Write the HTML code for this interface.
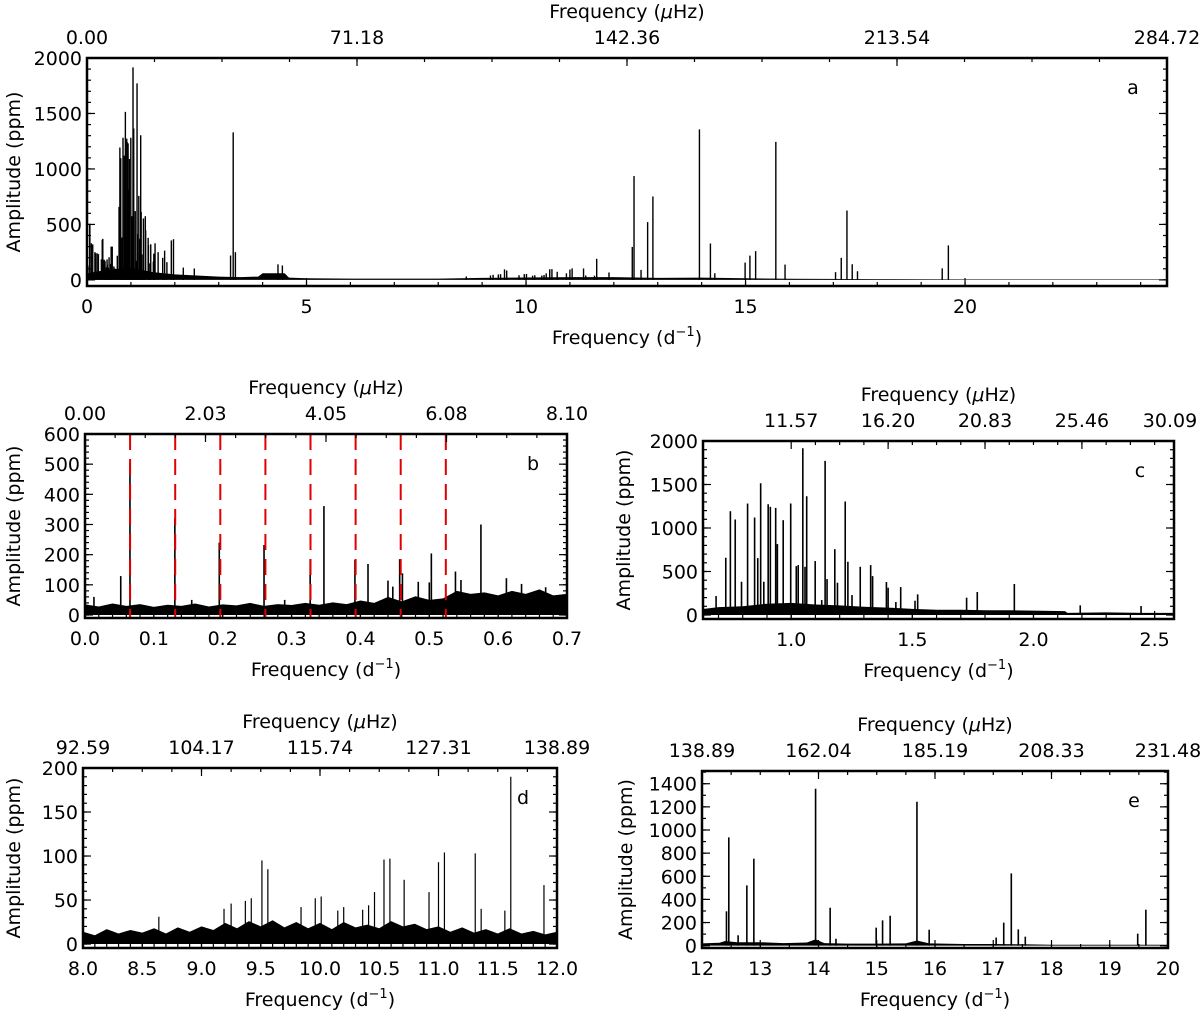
<!DOCTYPE html>
<html><head><meta charset="utf-8"><style>
html,body{margin:0;padding:0;background:#fff;}
svg{display:block;font-family:"DejaVu Sans","Liberation Sans",sans-serif;}
</style></head><body>
<svg id="fig" width="1200" height="1013" viewBox="0 0 1200 1013" xmlns="http://www.w3.org/2000/svg"></svg>
<script>
// ---------- DATA ----------
// panel b
const bPeakFreq=[0.0519,0.0653,0.1305,0.195,0.260,0.327,0.347,0.392,0.411,0.440,0.447,0.457,0.461,0.484,0.5,0.503,0.538,0.546,0.575,0.612,0.634,0.669,0.013,0.155,0.29];
const bPeakAmp=[129,505,320,240,232,185,361,182,169,114,94,185,138,110,108,204,144,116,300,122,103,92,60,50,50];
const bNoiseFreq=[0,0.02,0.04,0.06,0.08,0.1,0.12,0.14,0.16,0.18,0.2,0.22,0.24,0.26,0.28,0.3,0.32,0.34,0.36,0.38,0.4,0.42,0.44,0.46,0.48,0.5,0.52,0.54,0.56,0.58,0.6,0.62,0.64,0.66,0.68,0.7];
const bNoiseAmp=[35,28,38,30,36,27,34,30,38,28,35,32,40,30,36,33,40,34,42,36,48,40,60,45,62,50,55,80,70,75,65,80,70,85,65,70];
const bHarmonics=[0.0655,0.131,0.1965,0.262,0.3275,0.393,0.4585,0.524];
// panel c
const cPeakFreq=[0.69,0.73,0.749,0.769,0.795,0.82,0.849,0.862,0.874,0.887,0.905,0.914,0.936,0.943,0.967,0.998,1.021,1.029,1.048,1.057,1.064,1.099,1.126,1.14,1.148,1.18,1.191,1.223,1.234,1.251,1.285,1.328,1.336,1.393,1.4,1.432,1.452,1.511,1.522,1.724,1.768,1.921,2.193,2.444];
const cPeakAmp=[218,658,1193,1097,382,1281,1120,654,1514,382,1273,1243,1231,815,1090,1281,562,574,1916,554,1365,620,172,1771,413,757,371,1304,612,229,554,574,447,379,314,149,321,164,237,199,264,356,111,103];
const cNoiseFreq=[0.64,0.7,0.8,0.9,1.0,1.1,1.2,1.3,1.4,1.5,1.6,1.7,1.8,1.9,2.0,2.13,2.14,2.3,2.45,2.58];
const cNoiseAmp=[70,90,100,130,140,120,110,95,85,70,60,60,55,55,50,45,25,30,25,25];
// panel d
const dPeakFreq=[9.51,9.56,10.54,10.59,10.71,11.0,11.05,11.31,11.61,11.89,10.46,10.92,9.25,9.37,9.42,9.96,10.01,10.15,10.20,10.41,10.36,11.56,11.36,9.19,9.84,8.64];
const dPeakAmp=[95,85,96,97,73,93,104,103,190,67,59,59,46,49,52,52,54,38,42,44,39,38,40,40,42,31];
const dNoiseFreq=[8,8.1,8.2,8.3,8.4,8.5,8.6,8.7,8.8,8.9,9,9.1,9.2,9.3,9.4,9.5,9.6,9.7,9.8,9.9,10,10.1,10.2,10.3,10.4,10.5,10.6,10.7,10.8,10.9,11,11.1,11.2,11.3,11.4,11.5,11.6,11.7,11.8,11.9,12];
const dNoiseAmp=[14,10,17,12,16,13,18,12,19,14,20,16,24,18,26,20,27,19,25,18,24,17,25,19,22,18,26,20,23,17,20,14,19,13,17,12,18,12,15,11,14];
// panel e
const ePeakFreq=[12.42,12.46,12.77,12.89,13.95,14.20,14.99,15.1,15.23,15.69,15.90,17.18,17.31,17.43,17.55,19.48,19.62,12.62,14.3,17.05];
const ePeakAmp=[297,936,521,752,1357,328,156,219,259,1244,138,199,625,141,78,104,311,90,60,70];
const eNoiseFreq=[12,12.3,12.4,12.6,13,13.4,13.8,13.95,14.1,14.5,15,15.5,15.69,15.9,16.5,17,17.5,18,19,20];
const eNoiseAmp=[20,25,40,30,30,22,28,55,22,18,18,20,45,20,15,15,12,8,8,8];
// panel a (full range)
const aPeakFreq=[3.27,3.33,3.38,4.35,4.45,1.97,1.55,1.62,1.82,0.06,0.1,0.18,0.23,0.36,0.55];
const aPeakAmp=[220,1330,250,140,130,367,330,250,160,495,330,250,240,370,300];
const aNoiseFreq=[0,0.3,0.7,1.0,1.5,2,2.5,3,3.5,3.9,4,4.5,4.6,5,6,8,9,10,11,12,13,14,15,16,18,20,24.6];
const aNoiseAmp=[60,80,100,110,70,50,40,30,25,30,60,60,20,15,12,12,18,22,25,25,18,20,15,10,7,5,5];
// tick labels
const aTopLabels=["0.00","71.18","142.36","213.54","284.72"];
const bTopLabels=["0.00","2.03","4.05","6.08","8.10"];
const cTopLabels=["11.57","16.20","20.83","25.46","30.09"];
const dTopLabels=["92.59","104.17","115.74","127.31","138.89"];
const eTopLabels=["138.89","162.04","185.19","208.33","231.48"];

// ---------- DRAWING ----------
const NS="http://www.w3.org/2000/svg";
const svg=document.getElementById('fig');
function el(tag,attrs,parent){const e=document.createElementNS(NS,tag);for(const k in attrs)e.setAttribute(k,attrs[k]);(parent||svg).appendChild(e);return e;}
function makeScale(d0,d1,p0,p1){return v=>p0+(v-d0)*(p1-p0)/(d1-d0);}
function txt(x,y,s,anchor,size,parent,name){const t=el('text',{x:x,y:y,'text-anchor':anchor||'middle','font-size':size||19,fill:'#000'},parent);t.textContent=s;


return t;}

function panel(cfg){
  const g=el('g',{});
  
  
  const X=makeScale(cfg.xmin,cfg.xmax,cfg.x0,cfg.x1), Y=makeScale(cfg.ymin,cfg.ymax,cfg.y0,cfg.y1);
  let pts=[[X(cfg.noiseF[0]),Y(0)]];
  for(let i=0;i<cfg.noiseF.length;i++)pts.push([X(cfg.noiseF[i]),Y(cfg.noiseA[i])]);
  pts.push([X(cfg.noiseF[cfg.noiseF.length-1]),Y(0)]);
  const noise=el('polygon',{points:pts.map(p=>p.join(',')).join(' '),fill:'#000'},g);
  
  
  cfg.peaks.forEach(([F,A])=>{for(let i=0;i<F.length;i++){if(F[i]<cfg.xmin||F[i]>cfg.xmax)continue;
    const l=el('line',{x1:X(F[i]),x2:X(F[i]),y1:Y(0),y2:Y(A[i]),stroke:'#000','stroke-width':cfg.pw||1.6},g);
    
    }});
  if(cfg.harm)cfg.harm.forEach(h=>{const l=el('line',{x1:X(h),x2:X(h),y1:cfg.y1,y2:cfg.y0,stroke:'#e00000','stroke-width':2,'stroke-dasharray':'16,9'},g);
    
    });
  const T=el('g',{stroke:'#000','stroke-width':1.2},g);
  for(let v=cfg.xminor0;v<=cfg.xmax+1e-9;v+=cfg.xminor){const x=X(v);if(x<cfg.x0||x>cfg.x1)continue;
    el('line',{x1:x,x2:x,y1:cfg.y0,y2:cfg.y0-4},T);}
  cfg.xticks.forEach((v,i)=>{const x=X(v);el('line',{x1:x,x2:x,y1:cfg.y0,y2:cfg.y0-8},T);
    txt(x,cfg.y0+27,cfg.xlabels[i],'middle',19,g,'x-tick-label');});
  for(let v=0;v<=cfg.ymax;v+=cfg.yminor){const y=Y(v);el('line',{x1:cfg.x0,x2:cfg.x0+4,y1:y,y2:y},T);el('line',{x1:cfg.x1,x2:cfg.x1-4,y1:y,y2:y},T);}
  cfg.yticks.forEach(v=>{const y=Y(v);el('line',{x1:cfg.x0,x2:cfg.x0+8,y1:y,y2:y},T);el('line',{x1:cfg.x1,x2:cfg.x1-8,y1:y,y2:y},T);
    txt(cfg.x0-5,y+7,String(v),'end',19,g,'y-tick-label');});
  cfg.topTicks.forEach((v,i)=>{const x=X(v);el('line',{x1:x,x2:x,y1:cfg.y1,y2:cfg.y1+8},T);
    txt(Math.min(x,1200-30),cfg.y1-14,cfg.topLabels[i],'middle',19,g,'top-tick-label');});
  for(let k=1;k<4*(cfg.topTicks.length-1);k++){const v=cfg.topTicks[0]+(cfg.topTicks[1]-cfg.topTicks[0])*k/4;const x=X(v);if(x<cfg.x0||x>cfg.x1)continue;el('line',{x1:x,x2:x,y1:cfg.y1,y2:cfg.y1+4},T);}
  const fr=el('rect',{x:cfg.x0,y:cfg.y1,width:cfg.x1-cfg.x0,height:cfg.y0-cfg.y1,fill:'none',stroke:'#000','stroke-width':2.5},g);
  
  
  const cx=(cfg.x0+cfg.x1)/2;
  const tt=el('text',{x:cx,y:cfg.y1-40,'text-anchor':'middle','font-size':19},g);
  tt.innerHTML='Frequency (<tspan font-style="italic">μ</tspan>Hz)';
  
  
  const bt=el('text',{x:cx,y:cfg.y0+58,'text-anchor':'middle','font-size':19},g);
  bt.innerHTML='Frequency (d<tspan dy="-8" font-size="13">−1</tspan><tspan dy="8">)</tspan>';
  
  
  const yc=(cfg.y0+cfg.y1)/2;
  const yt=el('text',{x:0,y:0,'text-anchor':'middle','font-size':19,transform:'translate('+cfg.ylx+','+yc+') rotate(-90)'},g);
  yt.textContent='Amplitude (ppm)';
  
  
  txt(cfg.x1-34,cfg.y1+36,cfg.id,'middle',19,g,'panel-letter');
}

panel({id:'a',xmin:0,xmax:24.6,x0:87,x1:1167,ymin:-55,ymax:2000,y0:286,y1:58,
  noiseF:aNoiseFreq,noiseA:aNoiseAmp,peaks:[[aPeakFreq,aPeakAmp],[bPeakFreq,bPeakAmp],[cPeakFreq,cPeakAmp],[dPeakFreq,dPeakAmp],[ePeakFreq,ePeakAmp]],
  xticks:[0,5,10,15,20],xlabels:['0','5','10','15','20'],xminor0:0,xminor:1,yticks:[0,500,1000,1500,2000],yminor:100,
  topTicks:[0,6.15,12.3,18.45,24.6],topLabels:aTopLabels,ylx:20,pw:1.4});
panel({id:'b',xmin:0,xmax:0.7,x0:85,x1:567,ymin:-10,ymax:600,y0:618,y1:434,
  noiseF:bNoiseFreq,noiseA:bNoiseAmp,peaks:[[bPeakFreq,bPeakAmp]],harm:bHarmonics,
  xticks:[0,0.1,0.2,0.3,0.4,0.5,0.6,0.7],xlabels:['0.0','0.1','0.2','0.3','0.4','0.5','0.6','0.7'],xminor0:0,xminor:0.02,yticks:[0,100,200,300,400,500,600],yminor:20,
  topTicks:[0,0.175,0.35,0.525,0.7],topLabels:bTopLabels,ylx:20});
panel({id:'c',xmin:0.636,xmax:2.58,x0:703,x1:1174,ymin:-46,ymax:2000,y0:619,y1:441,
  noiseF:cNoiseFreq,noiseA:cNoiseAmp,peaks:[[cPeakFreq,cPeakAmp]],
  xticks:[1.0,1.5,2.0,2.5],xlabels:['1.0','1.5','2.0','2.5'],xminor0:0.7,xminor:0.1,yticks:[0,500,1000,1500,2000],yminor:100,
  topTicks:[1.0,1.4,1.8,2.2,2.58],topLabels:cTopLabels,ylx:630});
panel({id:'d',xmin:8,xmax:12,x0:83,x1:557,ymin:-4.5,ymax:200,y0:948,y1:768,
  noiseF:dNoiseFreq,noiseA:dNoiseAmp,peaks:[[dPeakFreq,dPeakAmp]],
  xticks:[8,8.5,9,9.5,10,10.5,11,11.5,12],xlabels:['8.0','8.5','9.0','9.5','10.0','10.5','11.0','11.5','12.0'],xminor0:8,xminor:0.1,yticks:[0,50,100,150,200],yminor:10,
  topTicks:[8,9,10,11,12],topLabels:dTopLabels,ylx:20,pw:1.2});
panel({id:'e',xmin:12,xmax:20,x0:702,x1:1168,ymin:-20,ymax:1510,y0:948,y1:771,
  noiseF:eNoiseFreq,noiseA:eNoiseAmp,peaks:[[ePeakFreq,ePeakAmp]],
  xticks:[12,13,14,15,16,17,18,19,20],xlabels:['12','13','14','15','16','17','18','19','20'],xminor0:12,xminor:0.5,yticks:[0,200,400,600,800,1000,1200,1400],yminor:100,
  topTicks:[12,14,16,18,20],topLabels:eTopLabels,ylx:632});
</script>
</body></html>
